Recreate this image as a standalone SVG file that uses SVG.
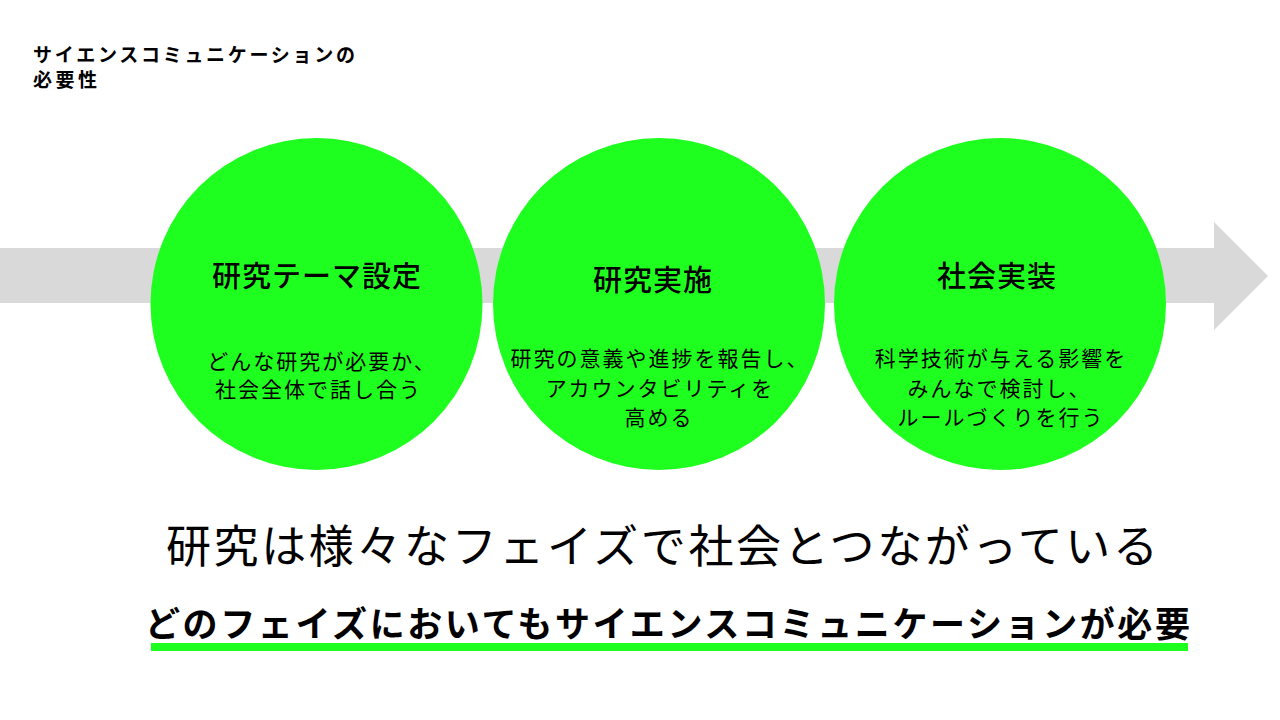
<svg xmlns="http://www.w3.org/2000/svg" width="1280" height="720" viewBox="0 0 1280 720">
<style>
.jp{font-family:"Noto Sans CJK JP","Noto Sans CJK SC",sans-serif;fill:#000;}
.ttl{font-size:29px;font-weight:500;text-anchor:middle;letter-spacing:1px;}
.sub{font-size:21px;font-weight:400;text-anchor:middle;letter-spacing:2px;}
.circ{fill:#1FFF1F;}
</style>
<rect width="1280" height="720" fill="#fff"/>
<g id="header">
<text class="jp" x="33" y="62" font-size="19" font-weight="700" textLength="322" lengthAdjust="spacing">サイエンスコミュニケーションの</text>
<text class="jp" x="33" y="87" font-size="19" font-weight="700" textLength="64" lengthAdjust="spacing">必要性</text>
</g>
<g id="connectors">
<polygon points="0,248 1214,248 1214,222 1268,276 1214,330 1214,303 0,303" fill="#D9D9D9"/>
</g>
<g id="node-theme">
<circle class="circ" cx="316.5" cy="304" r="166"/>
<text class="jp ttl" x="317" y="287">研究テーマ設定</text>
<text class="jp sub" x="322" y="369">どんな研究が必要か、</text>
<text class="jp sub" x="318.5" y="397">社会全体で話し合う</text>
</g>
<g id="node-implement">
<circle class="circ" cx="659" cy="304" r="166"/>
<text class="jp ttl" x="653" y="291">研究実施</text>
<text class="jp sub" x="660" y="366">研究の意義や進捗を報告し、</text>
<text class="jp sub" x="660" y="396">アカウンタビリティを</text>
<text class="jp sub" x="659" y="425">高める</text>
</g>
<g id="node-society">
<circle class="circ" cx="1000" cy="304" r="166"/>
<text class="jp ttl" x="997" y="287">社会実装</text>
<text class="jp sub" x="1001" y="366">科学技術が与える影響を</text>
<text class="jp sub" x="999.5" y="396">みんなで検討し、</text>
<text class="jp sub" x="1001" y="425">ルールづくりを行う</text>
</g>
<g id="message">
<text class="jp" x="166" y="563" font-size="45" font-weight="400" textLength="992" lengthAdjust="spacing">研究は様々なフェイズで社会とつながっている</text>
<text class="jp" x="145" y="637" font-size="35" font-weight="700" textLength="1045" lengthAdjust="spacing">どのフェイズにおいてもサイエンスコミュニケーションが必要</text>
<rect x="151" y="643" width="1037" height="8" fill="#1FFF1F"/>
</g>
</svg>
